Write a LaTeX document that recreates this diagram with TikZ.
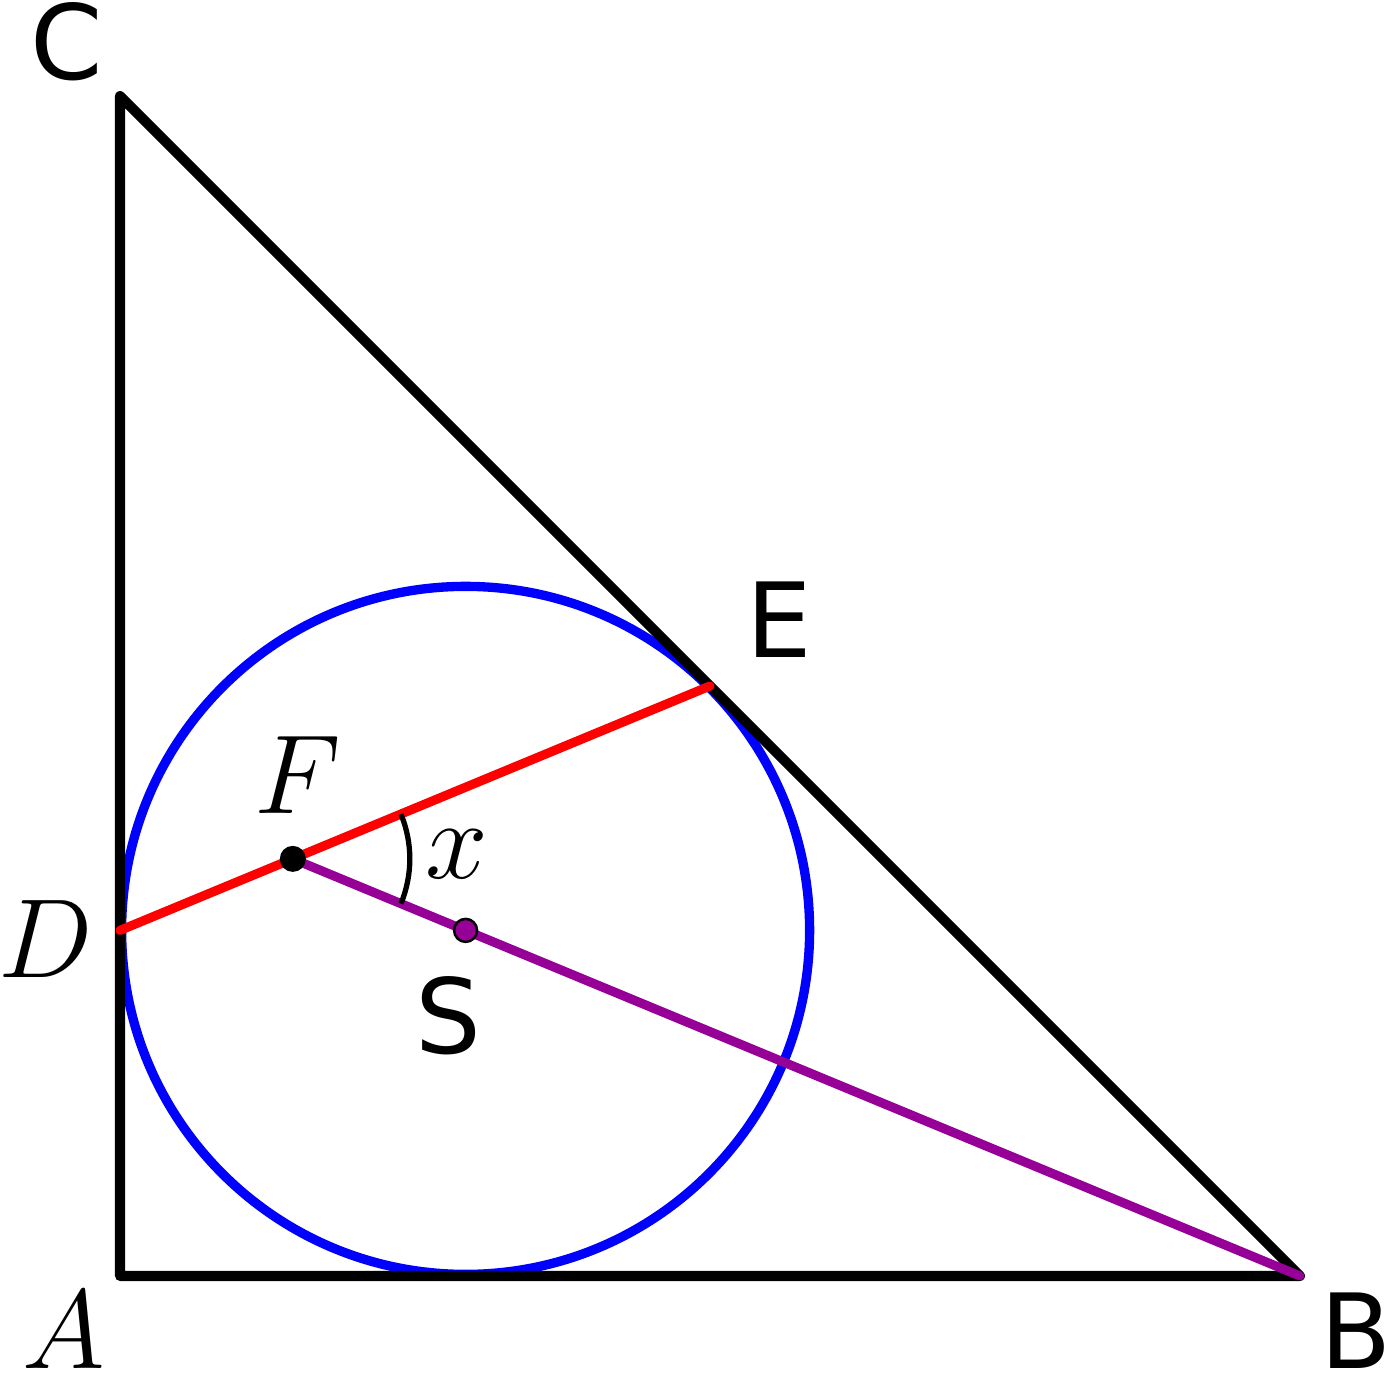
\documentclass[tikz,border=0pt]{standalone}
\usepackage{fontspec}
\newfontfamily\labelsans{DejaVu Sans}
\usetikzlibrary{calc}
\definecolor{mypurple}{RGB}{150,0,150}
\newcommand{\mlab}[1]{\scalebox{1.286}{\Huge$#1$}}
\tikzset{
  tri/.style={draw=black, line width=2.85pt, line join=round, line cap=round},
  incircle/.style={draw=blue, line width=2.65pt},
  redseg/.style={draw=red, line width=2.6pt, line cap=round},
  purpleseg/.style={draw=mypurple, line width=2.6pt, line cap=round},
  anglearc/.style={draw=black, line width=1.5pt},
  sanslabel/.style={inner sep=0pt, font=\labelsans\fontsize{29.5}{34}\selectfont},
  mathlabel/.style={inner sep=0pt},
}
\begin{document}
\begin{tikzpicture}[x=0.01cm, y=-0.01cm]
\useasboundingbox (0,0) rectangle (1387,1374);
% points
\coordinate (A) at (120,1276);
\coordinate (B) at (1300,1276);
\coordinate (C) at (120,96);
\coordinate (S) at (465.61,930.39);
\coordinate (D) at (120,930.39);
\coordinate (E) at (709.99,686.01);
\coordinate (F) at (intersection of D--E and B--S);
% incircle
\draw[incircle] (S) circle[radius=344];
% triangle
\draw[tri] (A) -- (B) -- (C) -- cycle;
% segments
\draw[purpleseg] (B) -- (F);
\draw[redseg] (D) -- (E);
% angle x
\draw[anglearc] ($(F)+(-22.5:117)$) arc[start angle=-22.5, end angle=22.5, radius=117];
% points
\node[circle, fill=black, inner sep=0pt, minimum size=0.26cm] (Fdot) at (F) {};
\node[circle, fill=mypurple, draw=black, line width=0.7pt, inner sep=0pt, minimum size=0.23cm] (Sdot) at (S) {};
% labels
\node[sanslabel] (Clab) at (67,42) {C};
\node[mathlabel] (Alab) at (64,1330) {\mlab{A}};
\node[sanslabel] (Blab) at (1356,1331) {B};
\node[sanslabel] (Elab) at (779,620) {E};
\node[mathlabel] (Flab) at (298,775) {\mlab{F}};
\node[mathlabel] (xlab) at (457,854) {\mlab{x}};
\node[sanslabel] (Slab) at (448,1016) {S};
\node[mathlabel] (Dlab) at (46,939) {\mlab{D}};
\end{tikzpicture}
\end{document}
